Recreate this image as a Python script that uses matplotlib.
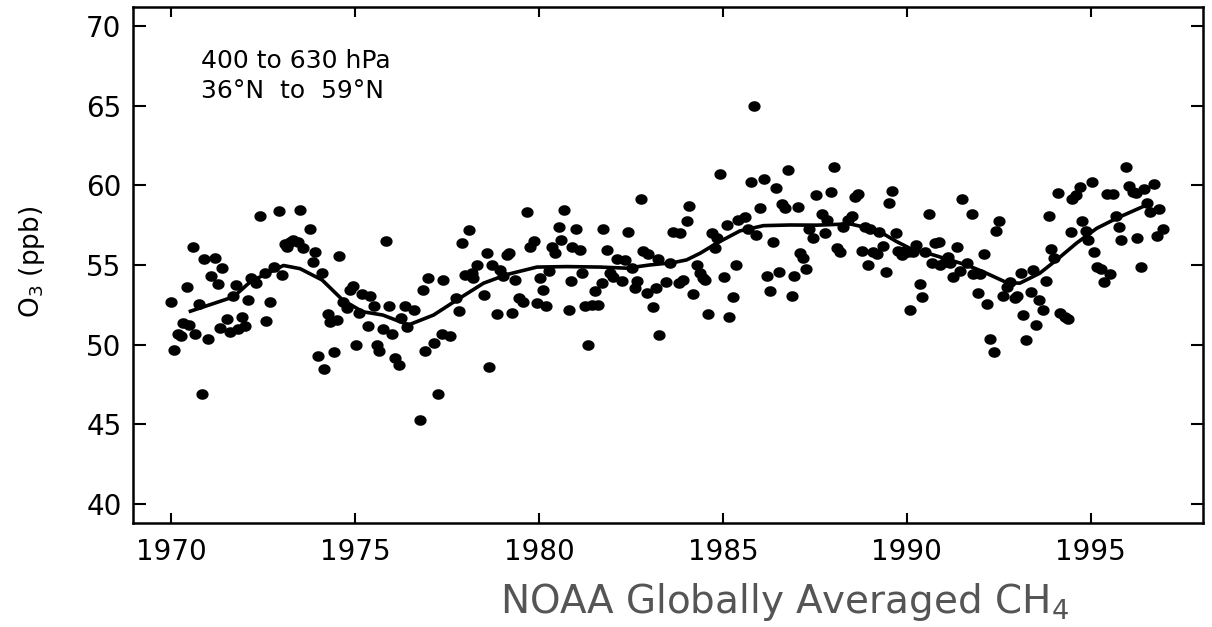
import numpy as np
import matplotlib
matplotlib.use('Agg')
import matplotlib.pyplot as plt
from matplotlib.path import Path

# monthly mean O3 (ppb)
years = [1969.99, 1970.06, 1970.17, 1970.26, 1970.33, 1970.43, 1970.47, 1970.58, 1970.65, 1970.74,
         1970.83, 1970.90, 1971.01, 1971.08, 1971.18, 1971.26, 1971.33, 1971.39, 1971.51, 1971.60,
         1971.68, 1971.77, 1971.80, 1971.92, 1972.01, 1972.08, 1972.17, 1972.31, 1972.42, 1972.54,
         1972.58, 1972.67, 1972.80, 1972.93, 1973.01, 1973.10, 1973.15, 1973.22, 1973.32, 1973.45,
         1973.50, 1973.58, 1973.76, 1973.84, 1973.91, 1974.00, 1974.10, 1974.16, 1974.26, 1974.32,
         1974.41, 1974.50, 1974.57, 1974.66, 1974.77, 1974.86, 1974.93, 1975.02, 1975.09, 1975.18,
         1975.34, 1975.41, 1975.52, 1975.59, 1975.66, 1975.75, 1975.83, 1975.92, 1976.00, 1976.09,
         1976.18, 1976.24, 1976.36, 1976.40, 1976.59, 1976.77, 1976.83, 1976.90, 1976.99, 1977.13,
         1977.26, 1977.36, 1977.40, 1977.58, 1977.74, 1977.83, 1977.90, 1977.99, 1978.08, 1978.17,
         1978.21, 1978.30, 1978.49, 1978.57, 1978.65, 1978.71, 1978.85, 1978.94, 1979.03, 1979.12,
         1979.18, 1979.26, 1979.35, 1979.44, 1979.57, 1979.66, 1979.76, 1979.85, 1979.93, 1980.02,
         1980.10, 1980.19, 1980.26, 1980.35, 1980.42, 1980.54, 1980.60, 1980.67, 1980.80, 1980.86,
         1980.90, 1981.00, 1981.11, 1981.16, 1981.25, 1981.34, 1981.43, 1981.52, 1981.60, 1981.70,
         1981.75, 1981.84, 1981.93, 1982.02, 1982.11, 1982.25, 1982.34, 1982.43, 1982.52, 1982.60,
         1982.65, 1982.76, 1982.83, 1982.92, 1982.97, 1983.09, 1983.18, 1983.24, 1983.27, 1983.45,
         1983.56, 1983.65, 1983.79, 1983.83, 1983.92, 1984.03, 1984.07, 1984.19, 1984.28, 1984.37,
         1984.46, 1984.51, 1984.60, 1984.69, 1984.78, 1984.83, 1984.92, 1985.03, 1985.10, 1985.17,
         1985.26, 1985.35, 1985.42, 1985.60, 1985.69, 1985.76, 1985.85, 1985.91, 1986.00, 1986.11,
         1986.19, 1986.28, 1986.35, 1986.43, 1986.52, 1986.60, 1986.68, 1986.76, 1986.87, 1986.93,
         1987.03, 1987.09, 1987.18, 1987.26, 1987.34, 1987.44, 1987.52, 1987.68, 1987.77, 1987.83,
         1987.93, 1988.02, 1988.09, 1988.18, 1988.27, 1988.40, 1988.50, 1988.59, 1988.68, 1988.77,
         1988.86, 1988.95, 1989.00, 1989.08, 1989.18, 1989.25, 1989.36, 1989.43, 1989.52, 1989.60,
         1989.70, 1989.77, 1989.86, 1989.95, 1990.04, 1990.08, 1990.17, 1990.26, 1990.35, 1990.42,
         1990.49, 1990.60, 1990.67, 1990.76, 1990.88, 1990.90, 1991.03, 1991.12, 1991.17, 1991.24,
         1991.35, 1991.44, 1991.51, 1991.62, 1991.76, 1991.80, 1991.94, 1991.98, 1992.09, 1992.19,
         1992.26, 1992.36, 1992.42, 1992.51, 1992.60, 1992.71, 1992.80, 1992.93, 1992.98, 1993.09,
         1993.16, 1993.25, 1993.36, 1993.43, 1993.52, 1993.60, 1993.69, 1993.77, 1993.86, 1993.93,
         1993.99, 1994.11, 1994.17, 1994.29, 1994.37, 1994.45, 1994.50, 1994.59, 1994.70, 1994.75,
         1994.86, 1994.93, 1995.03, 1995.09, 1995.18, 1995.27, 1995.35, 1995.43, 1995.52, 1995.61,
         1995.68, 1995.77, 1995.83, 1995.95, 1996.04, 1996.15, 1996.24, 1996.26, 1996.36, 1996.45,
         1996.53, 1996.60, 1996.71, 1996.79, 1996.86, 1996.97]
o3 = [52.66, 49.67, 50.70, 50.55, 51.38, 53.60, 51.24, 56.15, 50.67, 52.55,
      46.90, 55.40, 50.34, 54.33, 55.44, 53.80, 51.07, 54.80, 51.60, 50.80,
      53.07, 53.74, 50.96, 51.76, 51.20, 52.80, 54.20, 53.86, 58.05, 54.50,
      51.50, 52.66, 54.85, 58.40, 54.40, 56.30, 56.10, 56.45, 56.60, 56.45,
      58.45, 56.05, 57.25, 55.20, 55.80, 49.30, 54.50, 48.45, 51.90, 51.40,
      49.52, 51.55, 55.55, 52.70, 52.30, 53.40, 53.70, 50.00, 52.00, 53.20,
      51.20, 53.07, 52.45, 50.00, 49.60, 51.00, 56.50, 52.40, 50.67, 49.15,
      48.70, 51.66, 52.45, 51.13, 52.20, 45.30, 53.40, 49.60, 54.20, 50.13,
      46.90, 50.65, 54.06, 50.54, 52.95, 52.13, 56.40, 54.40, 57.20, 54.50,
      54.20, 55.00, 53.10, 55.75, 48.62, 55.00, 51.90, 54.70, 54.30, 55.60,
      55.75, 52.00, 54.06, 52.95, 52.70, 58.35, 56.15, 56.50, 52.60, 54.20,
      53.40, 52.40, 54.65, 56.15, 55.77, 57.40, 56.60, 58.45, 52.20, 53.97,
      56.15, 57.25, 55.96, 54.50, 52.40, 49.98, 52.46, 53.35, 52.46, 53.86,
      57.25, 55.96, 54.50, 54.27, 55.40, 53.97, 55.30, 57.10, 54.80, 53.55,
      53.97, 59.15, 55.87, 53.27, 55.70, 52.35, 53.55, 55.40, 50.60, 53.92,
      55.15, 57.09, 53.86, 56.99, 54.06, 57.78, 58.70, 53.16, 55.00, 54.48,
      54.17, 54.06, 51.90, 56.99, 56.05, 56.68, 60.73, 54.27, 57.50, 51.74,
      52.97, 55.00, 57.83, 58.03, 57.24, 60.23, 65.00, 56.86, 58.55, 60.38,
      54.33, 53.39, 56.47, 59.81, 54.59, 58.83, 58.56, 60.93, 53.07, 54.33,
      58.66, 55.74, 55.42, 54.74, 57.24, 56.68, 59.37, 58.19, 57.03, 57.83,
      59.60, 61.18, 56.05, 55.84, 57.40, 57.83, 58.10, 59.29, 59.44, 55.90,
      57.37, 55.00, 57.24, 55.84, 55.70, 57.09, 56.22, 54.53, 58.87, 59.67,
      56.99, 55.90, 55.60, 55.90, 55.80, 52.20, 55.84, 56.26, 53.81, 53.01,
      55.84, 58.20, 55.11, 56.37, 56.47, 55.00, 55.21, 55.52, 55.11, 54.27,
      56.11, 54.65, 59.15, 55.11, 58.20, 54.44, 53.23, 54.44, 55.69, 52.56,
      50.36, 49.52, 57.12, 57.77, 53.06, 53.64, 53.95, 52.91, 53.08, 54.48,
      51.87, 50.30, 53.33, 54.69, 51.24, 52.81, 52.18, 54.02, 58.10, 55.99,
      55.47, 59.54, 51.97, 51.76, 51.61, 57.07, 59.13, 59.40, 59.92, 57.79,
      57.14, 56.57, 60.19, 55.84, 54.86, 54.73, 53.92, 59.46, 54.44, 59.46,
      58.10, 57.37, 56.57, 61.17, 59.95, 59.60, 59.50, 56.68, 54.90, 59.75,
      58.92, 58.35, 60.09, 56.80, 58.49, 57.26]

# smoothed fit
fit_years = [1970.52, 1971.69, 1972.16, 1973.05, 1973.50, 1974.10, 1974.66, 1975.20, 1975.75,
             1976.45, 1977.13, 1977.76, 1978.49, 1979.12, 1979.94, 1980.75, 1981.66, 1982.38,
             1983.00, 1983.65, 1984.01, 1984.38, 1984.83, 1985.46, 1986.10, 1986.82, 1987.55,
             1988.45, 1989.18, 1989.72, 1990.08, 1990.72, 1991.62, 1992.07, 1992.71, 1993.07,
             1993.61, 1994.07, 1994.61, 1995.16, 1995.70, 1996.52]
fit_o3 = [52.10, 53.00, 53.97, 54.97, 54.77, 54.06, 52.80, 52.07, 51.86,
          51.24, 51.86, 52.80, 53.86, 54.40, 54.87, 54.90, 54.87, 54.80,
          55.00, 55.15, 55.32, 55.74, 56.37, 57.14, 57.47, 57.51, 57.50,
          57.58, 57.20, 56.47, 56.05, 55.63, 55.00, 54.58, 53.90, 53.86,
          54.48, 55.32, 56.37, 57.30, 57.93, 58.77]

xticks = [1970, 1975, 1980, 1985, 1990, 1995]
yticks = [40, 45, 50, 55, 60, 65, 70]

W, H = 1212, 627
fig = plt.figure(figsize=(W / 100, H / 100), dpi=100, facecolor='white')
ax = fig.add_axes([132.7 / W, 1 - 522.7 / H, (1203 - 132.7) / W, (522.7 - 7.3) / H])

# slightly wide dots, like the stretched original
t = np.linspace(0, 2 * np.pi, 40)
ell = Path(np.column_stack([1.18 * np.cos(t), np.sin(t)]), closed=True)
ax.plot(years, o3, linestyle='none', marker=ell, markersize=7.8, color='black')
ax.plot(fit_years, fit_o3, color='black', lw=2.6, solid_joinstyle='round')

ax.set_xlim(1968.95, 1998.05)
ax.set_ylim(38.83, 71.17)
ax.set_xticks(xticks)
ax.set_yticks(yticks)
ax.tick_params(axis='both', direction='in', top=True, right=True, labelsize=20, width=1.5)
ax.tick_params(axis='x', length=7, pad=11)
ax.tick_params(axis='y', length=9, pad=8)
ax.minorticks_off()
for s in ax.spines.values():
    s.set_linewidth(1.8)

fig.text(201 / W, 1 - 68 / H, '400 to 630 hPa', fontsize=18, va='baseline', ha='left')
fig.text(201 / W, 1 - 98 / H, '36\u00b0N  to  59\u00b0N', fontsize=18, va='baseline', ha='left')

fig.text(32 / W, 1 - 262 / H, 'O$_3$ (ppb)', fontsize=19, rotation=90, ha='center', va='center')
fig.text(784 / W, 1 - 613 / H, 'NOAA Globally Averaged CH$_4$', fontsize=28,
         color='#555555', ha='center', va='baseline')

fig.savefig('out.png', dpi=100, facecolor='white')
